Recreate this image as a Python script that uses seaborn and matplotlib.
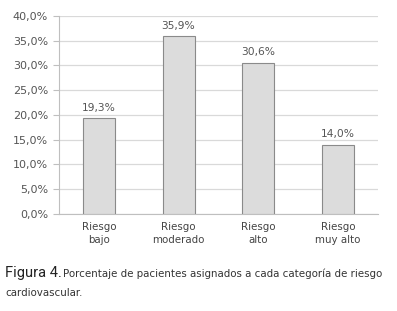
import pandas as pd
import matplotlib.pyplot as plt
import seaborn as sns

categorias = ['Riesgo\nbajo', 'Riesgo\nmoderado', 'Riesgo\nalto', 'Riesgo\nmuy alto']
porcentajes = [19.3, 35.9, 30.6, 14.0]
yticks = [0, 5, 10, 15, 20, 25, 30, 35, 40]

df = pd.DataFrame({'Categoria': categorias, 'Porcentaje': porcentajes})

sns.set_style('white')
plt.rcParams['font.family'] = ['DejaVu Sans']

fig = plt.figure(figsize=(3.97, 3.11), dpi=100)
ax = fig.add_axes([0.1486, 0.3119, 0.8034, 0.6367])

sns.barplot(data=df, x='Categoria', y='Porcentaje', color='#dcdcdc',
            edgecolor='#8a8a8a', linewidth=0.8, width=0.4, ax=ax, zorder=3)

# Value labels above bars
for p, v in zip(ax.patches, porcentajes):
    ax.annotate(f'{v:.1f}%'.replace('.', ','),
                (p.get_x() + p.get_width() / 2., p.get_height()),
                ha='center', va='bottom', xytext=(0, 4),
                textcoords='offset points', fontsize=7.7, color='#555555')

ax.set_ylim(0, 40)
ax.set_xlim(-0.5, 3.5)
ax.set_yticks(yticks)
ax.set_yticklabels([f'{t:.1f}%'.replace('.', ',') for t in yticks],
                   fontsize=8, color='#555555')
ax.set_xticklabels(categorias, fontsize=7.4, color='#444444', linespacing=1.35)
ax.set_xlabel('')
ax.set_ylabel('')
ax.yaxis.grid(True, color='#d9d9d9', linewidth=0.9, zorder=0)

for side in ['top', 'right']:
    ax.spines[side].set_visible(False)
ax.spines['left'].set_color('#bfbfbf')
ax.spines['bottom'].set_color('#bfbfbf')

# small ticks between categories
ax.set_xticks([-0.5, 0.5, 1.5, 2.5, 3.5], minor=True)
ax.tick_params(axis='x', which='major', length=0, pad=6)
ax.tick_params(axis='x', which='minor', length=4, color='#bfbfbf')
ax.tick_params(axis='y', length=4, color='#bfbfbf', left=True, pad=4)

fig.text(0.013, 0.109, 'Figura 4.', fontsize=10.5, color='#222222',
         family=['Roboto', 'DejaVu Sans'])
fig.text(0.158, 0.109, 'Porcentaje de pacientes asignados a cada categoría de riesgo',
         fontsize=7.4, color='#333333')
fig.text(0.013, 0.048, 'cardiovascular.', fontsize=7.4, color='#333333')

plt.savefig('out.png', dpi=100)
